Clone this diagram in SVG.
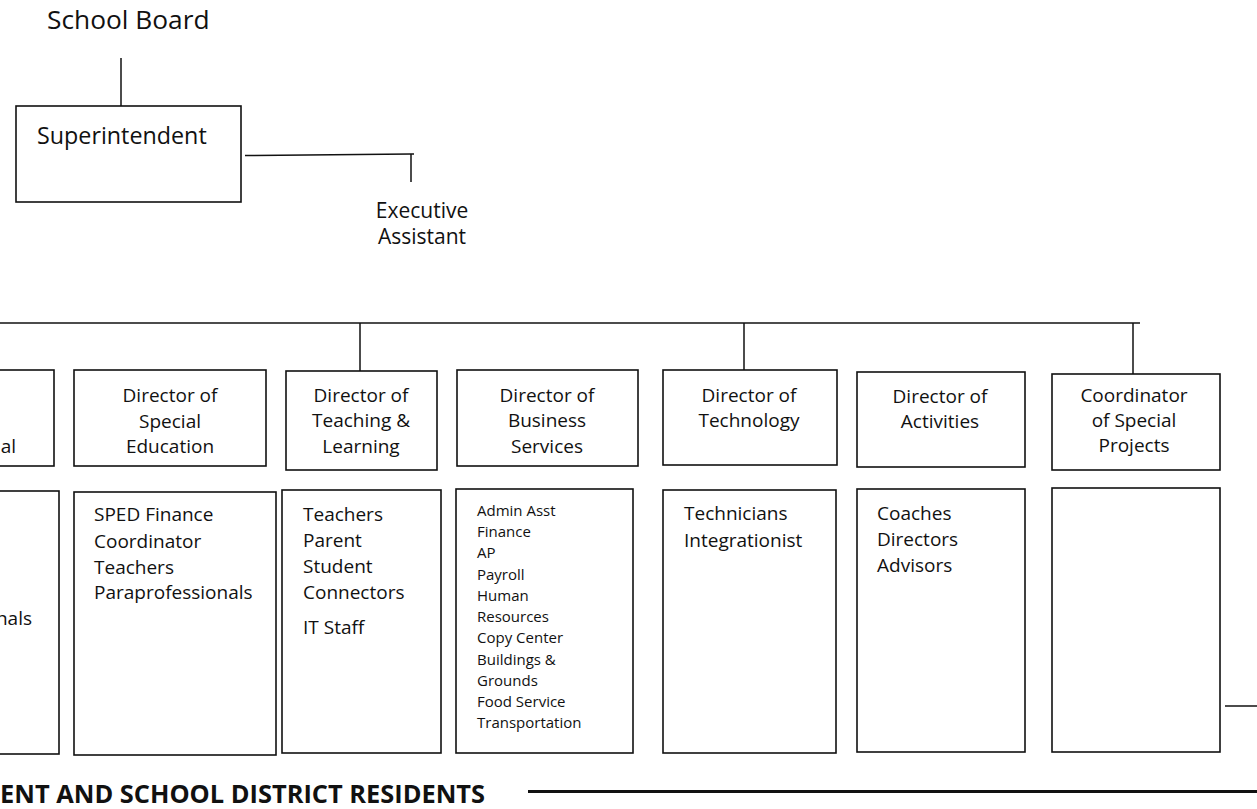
<svg xmlns="http://www.w3.org/2000/svg" width="1257" height="809" viewBox="0 0 1257 809">
<style>
text{font-family:"Open Sans","Noto Sans",sans-serif;fill:#111}
.box{fill:#fff;stroke:#111;stroke-width:1.6}
.ln{stroke:#111;stroke-width:1.5;fill:none}
.hd{font-size:19px;text-anchor:middle}
.sub{font-size:19px}
.sm{font-size:15px}
</style>
<g id="connectors">
<line class="ln" x1="121" y1="58" x2="121" y2="106"/>
<polyline class="ln" points="245,155.5 411,154 414,154"/>
<line class="ln" x1="411" y1="154" x2="411" y2="182"/>
<line class="ln" x1="0" y1="323" x2="1140" y2="323"/>
<line class="ln" x1="360" y1="323" x2="360" y2="371"/>
<line class="ln" x1="744" y1="323" x2="744" y2="370"/>
<line class="ln" x1="1133" y1="323" x2="1133" y2="374"/>
<line class="ln" x1="1225" y1="706" x2="1257" y2="706"/>
<line x1="528" y1="791.5" x2="1257" y2="791.5" stroke="#111" stroke-width="3"/>
</g>
<g id="school-board"><text x="47" y="29" font-size="26.3">School Board</text></g>
<g id="superintendent">
<rect class="box" x="16" y="106" width="225" height="96"/>
<text x="37" y="144" font-size="23.3">Superintendent</text>
</g>
<g id="executive-assistant">
<text x="422" y="218" font-size="21" text-anchor="middle">Executive</text>
<text x="422" y="244" font-size="21" text-anchor="middle">Assistant</text>
</g>
<g id="director-left">
<rect class="box" x="-10" y="370" width="64" height="96"/>
<text x="16" y="453" class="hd" style="text-anchor:end">al</text>
</g>
<g id="director-sped">
<rect class="box" x="74" y="370" width="192" height="96"/>
<text class="hd" x="170" y="402">Director of</text>
<text class="hd" x="170" y="428">Special</text>
<text class="hd" x="170" y="453">Education</text>
</g>
<g id="director-tl">
<rect class="box" x="286" y="371" width="151" height="99"/>
<text class="hd" x="361" y="402">Director of</text>
<text class="hd" x="361" y="427">Teaching &amp;</text>
<text class="hd" x="361" y="453">Learning</text>
</g>
<g id="director-business">
<rect class="box" x="457" y="370" width="181" height="96"/>
<text class="hd" x="547" y="402">Director of</text>
<text class="hd" x="547" y="427">Business</text>
<text class="hd" x="547" y="453">Services</text>
</g>
<g id="director-technology">
<rect class="box" x="663" y="370" width="174" height="95"/>
<text class="hd" x="749" y="402">Director of</text>
<text class="hd" x="749" y="427">Technology</text>
</g>
<g id="director-activities">
<rect class="box" x="857" y="372" width="168" height="95"/>
<text class="hd" x="940" y="403">Director of</text>
<text class="hd" x="940" y="428">Activities</text>
</g>
<g id="coordinator-special-projects">
<rect class="box" x="1052" y="374" width="168" height="96"/>
<text class="hd" x="1134" y="402">Coordinator</text>
<text class="hd" x="1134" y="427">of Special</text>
<text class="hd" x="1134" y="452">Projects</text>
</g>
<g id="staff-left">
<rect class="box" x="-10" y="491" width="69" height="263"/>
<text class="sub" x="32" y="625" text-anchor="end">nals</text>
</g>
<g id="staff-sped">
<rect class="box" x="74" y="492" width="202" height="263"/>
<text class="sub" x="94" y="521">SPED Finance</text>
<text class="sub" x="94" y="548">Coordinator</text>
<text class="sub" x="94" y="574">Teachers</text>
<text class="sub" x="94" y="599">Paraprofessionals</text>
</g>
<g id="staff-tl">
<rect class="box" x="282" y="490" width="159" height="263"/>
<text class="sub" x="303" y="521">Teachers</text>
<text class="sub" x="303" y="547">Parent</text>
<text class="sub" x="303" y="573">Student</text>
<text class="sub" x="303" y="599">Connectors</text>
<text class="sub" x="303" y="634">IT Staff</text>
</g>
<g id="staff-business">
<rect class="box" x="456" y="489" width="177" height="264"/>
<text class="sm" x="477" y="516">Admin Asst</text>
<text class="sm" x="477" y="537">Finance</text>
<text class="sm" x="477" y="558">AP</text>
<text class="sm" x="477" y="580">Payroll</text>
<text class="sm" x="477" y="601">Human</text>
<text class="sm" x="477" y="622">Resources</text>
<text class="sm" x="477" y="643">Copy Center</text>
<text class="sm" x="477" y="665">Buildings &amp;</text>
<text class="sm" x="477" y="686">Grounds</text>
<text class="sm" x="477" y="707">Food Service</text>
<text class="sm" x="477" y="728">Transportation</text>
</g>
<g id="staff-technology">
<rect class="box" x="663" y="490" width="173" height="263"/>
<text class="sub" x="684" y="520">Technicians</text>
<text class="sub" x="684" y="547">Integrationist</text>
</g>
<g id="staff-activities">
<rect class="box" x="857" y="489" width="168" height="263"/>
<text class="sub" x="877" y="520">Coaches</text>
<text class="sub" x="877" y="546">Directors</text>
<text class="sub" x="877" y="572">Advisors</text>
</g>
<g id="staff-special-projects">
<rect class="box" x="1052" y="488" width="168" height="264"/>
</g>
<g id="residents">
<text x="485" y="803" font-size="25.4" font-weight="bold" text-anchor="end">ENT AND SCHOOL DISTRICT RESIDENTS</text>
</g>
</svg>
